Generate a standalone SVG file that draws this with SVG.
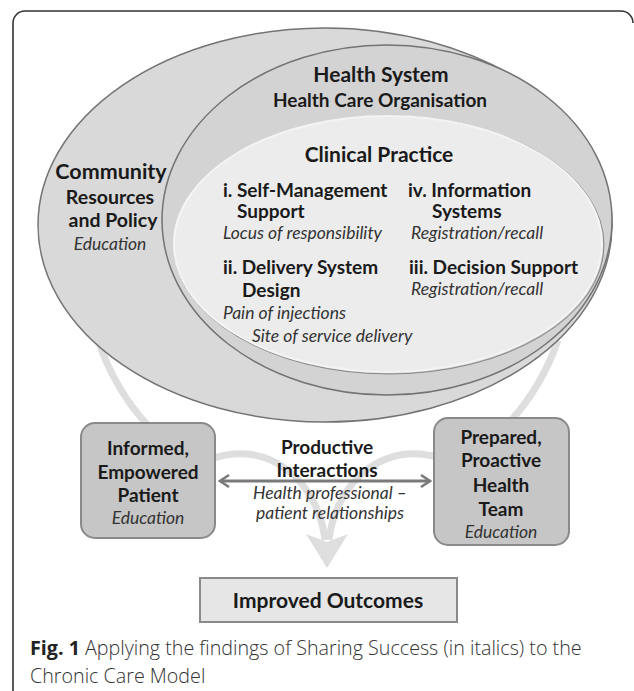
<svg xmlns="http://www.w3.org/2000/svg" width="634" height="691" viewBox="0 0 634 691">
<style>
text{font-family:Lato,Carlito,"Liberation Sans",sans-serif;fill:#1a1a1a}
.b{font-weight:bold}
.i{font-style:italic;fill:#333}
.c{text-anchor:middle}
.ring{stroke:#737373;stroke-width:1.5}
.box{fill:#c6c6c6;stroke:#8a8a8a;stroke-width:2}
.flow{fill:none;stroke:#dedede;stroke-width:7}
.cap{font-family:"Open Sans","Noto Sans",sans-serif;font-weight:300;fill:#333;font-size:19.7px}
</style>
<defs>
<marker id="ah" viewBox="0 0 12 14" refX="10" refY="7" markerWidth="12" markerHeight="14" markerUnits="userSpaceOnUse" orient="auto-start-reverse">
<path d="M1,1 L10,7 L1,13" fill="none" stroke="#7a7a7a" stroke-width="2.5"/>
</marker>
</defs>
<path d="M13,691 V23 A12,12 0 0 1 25,11 H621 A12,12 0 0 1 633,23" fill="none" stroke="#333" stroke-width="1.6"/>
<g id="connectors">
<path class="flow" d="M98,340 A240,240 0 0 0 150,428"/>
<path class="flow" d="M558,340 A240,240 0 0 1 508,424"/>
<path class="flow" d="M214,458 C268,440 318,480 325,540"/>
<path class="flow" d="M440,458 C386,440 336,480 329,540"/>
<polygon points="306,534 327,542 348,534 327,568" fill="#dedede"/>
<line x1="220" y1="481" x2="430" y2="481" stroke="#7a7a7a" stroke-width="3" marker-start="url(#ah)" marker-end="url(#ah)"/>
</g>
<g id="community">
<ellipse cx="325" cy="225" rx="287" ry="197" fill="#d9d9d9" class="ring"/>
<text class="b c" x="111" y="179" font-size="21.5">Community</text>
<text class="b c" x="110" y="204" font-size="19.5">Resources</text>
<text class="b c" x="113" y="227" font-size="19.5">and Policy</text>
<text class="i c" x="110" y="250" font-size="17.5">Education</text>
</g>
<g id="health-system">
<ellipse cx="387" cy="220" rx="225" ry="175" fill="#d3d3d3" class="ring"/>
<text class="b c" x="381" y="82" font-size="21">Health System</text>
<text class="b c" x="380" y="107" font-size="19">Health Care Organisation</text>
</g>
<g id="clinical-practice">
<ellipse cx="389" cy="245" rx="215" ry="129" fill="#bdbdbd" stroke="#8a8a8a" stroke-width="1"/>
<ellipse cx="388" cy="244" rx="214" ry="128" fill="#ececec" stroke="#f4f4f4" stroke-width="2"/>
<text class="b c" x="379" y="162" font-size="21">Clinical Practice</text>
<text class="b" x="223" y="197" font-size="19">i. Self-Management</text>
<text class="b" x="237" y="218" font-size="19">Support</text>
<text class="i" x="223" y="239" font-size="17.5">Locus of responsibility</text>
<text class="b" x="408" y="197" font-size="19">iv. Information</text>
<text class="b" x="432" y="218" font-size="19">Systems</text>
<text class="i" x="411" y="239" font-size="17.5">Registration/recall</text>
<text class="b" x="223" y="274" font-size="19">ii. Delivery System</text>
<text class="b" x="242" y="297" font-size="19">Design</text>
<text class="i" x="223" y="319" font-size="17.5">Pain of injections</text>
<text class="i" x="252" y="342" font-size="17.5">Site of service delivery</text>
<text class="b" x="409" y="274" font-size="19">iii. Decision Support</text>
<text class="i" x="411" y="295" font-size="17.5">Registration/recall</text>
</g>
<g id="patient">
<rect class="box" x="81" y="423" width="134" height="115" rx="14"/>
<text class="b c" x="148" y="455" font-size="19">Informed,</text>
<text class="b c" x="148" y="479" font-size="19">Empowered</text>
<text class="b c" x="148" y="502" font-size="19">Patient</text>
<text class="i c" x="148" y="524" font-size="17.5">Education</text>
</g>
<g id="team">
<rect class="box" x="434" y="418" width="135" height="127" rx="14"/>
<text class="b c" x="501" y="444" font-size="19">Prepared,</text>
<text class="b c" x="501" y="467" font-size="19">Proactive</text>
<text class="b c" x="501" y="492" font-size="19">Health</text>
<text class="b c" x="501" y="516" font-size="19">Team</text>
<text class="i c" x="501" y="538" font-size="17.5">Education</text>
</g>
<g id="interactions">
<text class="b c" x="327" y="454" font-size="19">Productive</text>
<text class="b c" x="327" y="477" font-size="19">Interactions</text>
<text class="i c" x="330" y="499" font-size="17.5">Health professional –</text>
<text class="i c" x="330" y="519" font-size="17.5">patient relationships</text>
</g>
<g id="outcomes">
<rect x="200" y="578" width="257" height="44" fill="#e6e6e6" stroke="#8a8a8a" stroke-width="2"/>
<text class="b c" x="328" y="608" font-size="21">Improved Outcomes</text>
</g>
<text class="cap" x="30" y="655"><tspan font-weight="bold" fill="#222">Fig. 1</tspan> Applying the findings of Sharing Success (in italics) to the</text>
<text class="cap" x="30" y="683">Chronic Care Model</text>
</svg>
